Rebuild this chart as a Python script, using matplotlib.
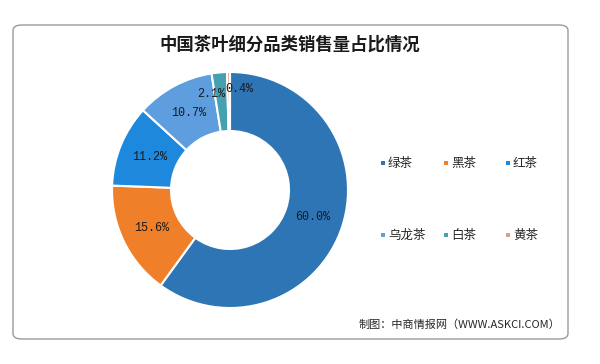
import matplotlib
matplotlib.use("Agg")
import matplotlib.pyplot as plt
from matplotlib.lines import Line2D
from matplotlib.patches import FancyBboxPatch
import numpy as np

plt.rcParams['font.family'] = ['Noto Sans CJK SC', 'DejaVu Sans']

categories = ['绿茶', '黑茶', '红茶', '乌龙茶', '白茶', '黄茶']
values = [60.0, 15.6, 11.2, 10.7, 2.1, 0.4]
labels = ['60.0%', '15.6%', '11.2%', '10.7%', '2.1%', '0.4%']
colors = ['#2E75B6', '#F07F2A', '#1E88DC', '#5E9EDF', '#45A0B2', '#D9A27A']

title = '中国茶叶细分品类销售量占比情况'
source = '制图：中商情报网（WWW.ASKCI.COM）'

W, H = 600, 364
fig = plt.figure(figsize=(W / 100, H / 100), dpi=100)
fig.patch.set_facecolor('white')

# outer frame
frame = FancyBboxPatch((13 / W, (H - 339) / H), (568 - 13) / W, (339 - 25) / H,
                       boxstyle='round,pad=0,rounding_size=0.015',
                       transform=fig.transFigure, fill=False,
                       edgecolor='#9A9A9A', linewidth=1.0)
fig.patches.append(frame)

cx, cy, r = 230, 190, 118
ax = fig.add_axes([(cx - r) / W, (H - cy - r) / H, 2 * r / W, 2 * r / H])
wedges, texts = ax.pie(values, colors=colors, startangle=90, counterclock=False,
                       radius=1.0,
                       wedgeprops=dict(width=0.5, edgecolor='white', linewidth=1.5))
ax.set_xlim(-1, 1)
ax.set_ylim(-1, 1)
ax.set_aspect('equal')
ax.axis('off')

# data labels
cum = np.cumsum([0] + values[:-1])
total = sum(values)
offsets = {4: (-0.09, 0.08), 5: (0.09, 0.12)}
for i, (v, c0, lab) in enumerate(zip(values, cum, labels)):
    mid = c0 + v / 2
    ang = np.deg2rad(90 - 360 * mid / total)
    rr = 0.74
    x, y = rr * np.cos(ang), rr * np.sin(ang)
    dx, dy = offsets.get(i, (0, 0))
    ax.text(x + dx, y + dy, lab, ha='center', va='center', fontsize=8.5,
            family=['Liberation Mono', 'DejaVu Sans Mono'], color='#1a1a1a')

fig.text(290 / W, 1 - 45 / H, title, ha='center', va='center', fontsize=12.5,
         fontweight='bold', color='#1a1a1a')

# legend laid out on a 3 x 2 grid
col_x = [383, 446, 508]
row_y = [163, 235]
for i, name in enumerate(categories):
    px = col_x[i % 3]
    py = row_y[i // 3]
    fig.add_artist(Line2D([px / W], [1 - py / H], marker='s', linestyle='none',
                          markersize=3.5, color=colors[i], markeredgewidth=0,
                          transform=fig.transFigure))
    fig.text((px + 5) / W, 1 - py / H, name, ha='left', va='center',
             fontsize=9, color='#262626')

fig.text(560 / W, 1 - 325 / H, source, ha='right', va='center', fontsize=8,
         color='#262626')

fig.savefig('out.png', dpi=100, facecolor='white')
